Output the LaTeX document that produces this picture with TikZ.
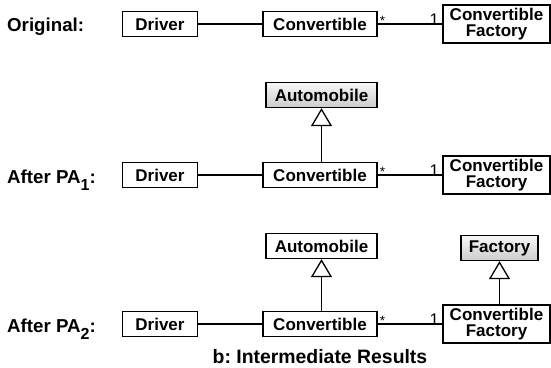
\documentclass[tikz,border=0pt]{standalone}
\usepackage{fontspec}
\setmainfont{Liberation Sans}
\usetikzlibrary{arrows.meta, positioning}
\newcommand{\pasub}[1]{\raisebox{-7.5pt}{\fontsize{16}{16}\selectfont #1}}
\newcommand{\multtext}[1]{\fontsize{13}{14}\selectfont #1}
\frenchspacing

\begin{document}
\begin{tikzpicture}[x=1pt, y=-1pt,
		cls/.style={draw, line width=1.3pt, font=\fontsize{17}{16}\selectfont\bfseries, inner sep=0pt, minimum height=25pt, align=center},
		abstr/.style={cls, top color=gray!6, bottom color=gray!40},
		rowlbl/.style={font=\fontsize{18.7}{22}\selectfont\bfseries, anchor=base west, inner sep=0pt},
		mult/.style={inner sep=0pt, scale=1.3},
		assoc/.style={line width=1.3pt},
		gen/.style={line width=1.3pt, -{Triangle[open, length=18pt, width=21pt, line width=1.3pt]}}]
	\useasboundingbox (0,0) rectangle (551,367);
	% the three rows
	\foreach \r/\y/\b/\t in {1/24/31/{Original:}, 2/175/183/{After PA\pasub{1}:}, 3/324/332/{After PA\pasub{2}:}} {
		\node[rowlbl] (lbl \r) at (7,\b) {\t};
		\node[cls, minimum width=75pt] (drv \r) at (160,\y) {Driver};
		\node[cls, minimum width=114pt] (conv \r) at (320,\y) {Convertible};
		\node[cls, minimum width=107pt, minimum height=38pt] (cf \r) at (496.5,\y) {Convertible\\Factory};
		\draw[assoc] (drv \r) -- (conv \r);
		\draw[assoc] (conv \r) -- (cf \r);
		\node[mult, scale=0.8, anchor=base west] (star \r) at ([xshift=2pt, yshift=-1pt]conv \r.east) {\multtext{*}};
		\node[mult, anchor=base east] (one \r) at ([xshift=-3pt, yshift=-1.5pt]cf \r.west) {\multtext{1}};
	}
	\node[abstr, minimum width=111pt] (auto 2) at (321.5,95) {Automobile};
	\node[cls, minimum width=111pt] (auto 3) at (321.5,246) {Automobile};
	\node[abstr, minimum width=77pt] (fac 3) at (499.5,248) {Factory};
	\draw[gen] (auto 2 |- conv 2.north) -- (auto 2);
	\draw[gen] (auto 3 |- conv 3.north) -- (auto 3);
	\draw[gen] (fac 3 |- cf 3.north) -- (fac 3);
	\node[font=\fontsize{19.4}{22}\selectfont\bfseries, anchor=base, inner sep=0pt] (caption) at (320,363) {b: Intermediate Results};
\end{tikzpicture}
\end{document}
